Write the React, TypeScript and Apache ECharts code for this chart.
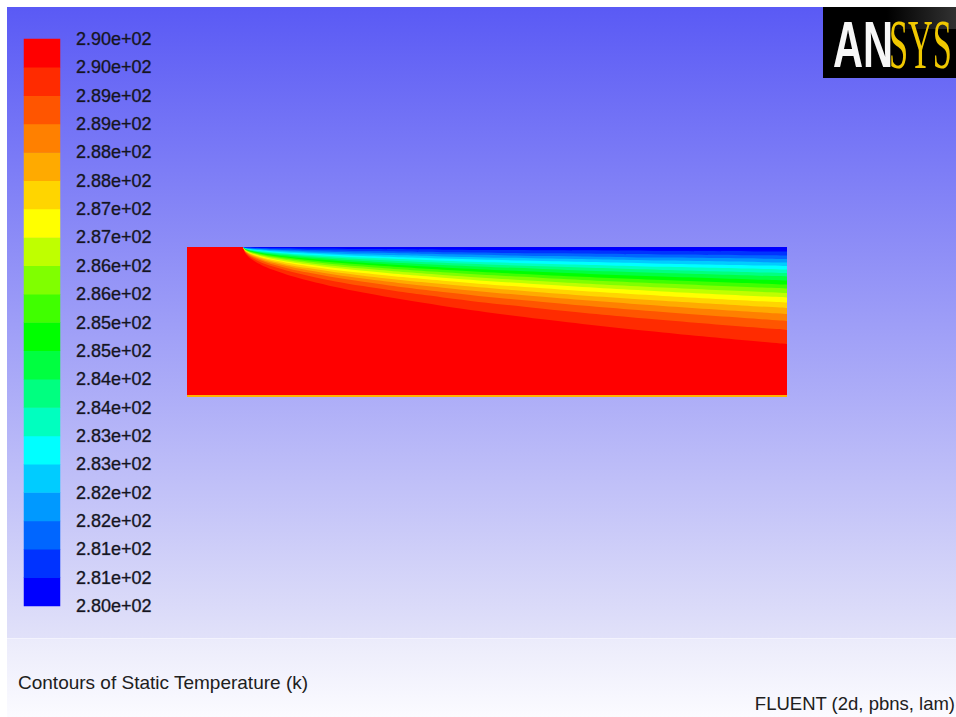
import React, { useEffect, useRef } from "react";
import * as echarts from "echarts";

// Colour-bar levels (K), bottom to top
const LEVELS = [280, 280.5, 281, 281.5, 282, 282.5, 283, 283.5, 284, 284.5, 285, 285.5, 286, 286.5, 287, 287.5, 288, 288.5, 289, 289.5, 290];
// Tick labels as printed, bottom to top
const TICK_LABELS = ["2.80e+02", "2.81e+02", "2.81e+02", "2.82e+02", "2.82e+02", "2.83e+02", "2.83e+02", "2.84e+02", "2.84e+02", "2.85e+02", "2.85e+02", "2.86e+02", "2.86e+02", "2.87e+02", "2.87e+02", "2.88e+02", "2.88e+02", "2.89e+02", "2.89e+02", "2.90e+02", "2.90e+02"];
// Band colours, band 280-280.5 first
const BAND_COLORS = ["#0000ff", "#0033ff", "#0066ff", "#0099ff", "#00ccff", "#00ffff", "#00ffbf", "#00ff80", "#00ff40", "#00ff00", "#40ff00", "#80ff00", "#bfff00", "#ffff00", "#ffd500", "#ffaa00", "#ff8000", "#ff5500", "#ff2b00", "#ff0000"];

// Domain (length, height) in plot units
const DOMAIN_X = [0, 600];
const DOMAIN_Y = [0, 149];
// Stations along the wall where isotherm depths were read
const STATION_X = [56, 59, 68, 86, 121, 176, 256, 356, 476, 600];
// Depth of each isotherm below the cold top wall, at STATION_X
const ISO_280_5 = [0, 0.3, 0.7, 1.1, 1.6, 2.1, 2.7, 3.3, 4.0, 4.5];
const ISO_281_0 = [0, 0.6, 1.3, 2.0, 2.9, 4.0, 5.2, 6.3, 7.5, 8.5];
const ISO_281_5 = [0, 0.9, 1.8, 2.8, 4.2, 5.6, 7.3, 8.9, 10.6, 12];
const ISO_282_0 = [0, 1.2, 2.3, 3.6, 5.4, 7.3, 9.4, 11.5, 13.6, 15.5];
const ISO_282_5 = [0, 1.4, 2.8, 4.5, 6.6, 8.9, 11.5, 14.1, 16.7, 19];
const ISO_283_0 = [0, 1.7, 3.3, 5.3, 7.8, 10.6, 13.7, 16.7, 19.8, 22.5];
const ISO_283_5 = [0, 1.9, 3.9, 6.1, 9.0, 12.2, 15.8, 19.3, 22.9, 26];
const ISO_284_0 = [0, 2.2, 4.4, 6.9, 10.2, 13.9, 17.9, 21.9, 26.0, 29.5];
const ISO_284_5 = [0, 2.5, 5.0, 7.9, 11.6, 15.8, 20.4, 24.9, 29.5, 33.5];
const ISO_285_0 = [0, 2.8, 5.6, 8.8, 13.0, 17.6, 22.8, 27.9, 33.0, 37.5];
const ISO_285_5 = [0, 3.1, 6.2, 9.8, 14.4, 19.5, 25.2, 30.9, 36.5, 41.5];
const ISO_286_0 = [0, 3.4, 6.8, 10.8, 15.9, 21.6, 27.9, 34.2, 40.5, 46];
const ISO_286_5 = [0, 3.8, 7.5, 11.9, 17.5, 23.8, 30.7, 37.6, 44.5, 50.5];
const ISO_287_0 = [0, 4.1, 8.3, 13.1, 19.2, 26.1, 33.7, 41.3, 48.9, 55.5];
const ISO_287_5 = [0, 4.5, 9.1, 14.4, 21.1, 28.7, 37.1, 45.4, 53.7, 61];
const ISO_288_0 = [0, 5.0, 10.0, 15.8, 23.2, 31.5, 40.7, 49.8, 59.0, 67];
const ISO_288_5 = [0, 5.5, 11.0, 17.4, 25.6, 34.8, 45.0, 55.1, 65.1, 74];
const ISO_289_0 = [0, 6.2, 12.4, 19.5, 28.7, 39.1, 50.4, 61.8, 73.1, 83];
const ISO_289_5 = [0, 7.2, 14.4, 22.8, 33.6, 45.6, 58.9, 72.2, 85.4, 97];

const TITLE = "Contours of Static Temperature (k)";
const SOLVER = "FLUENT (2d, pbns, lam)";

// isotherm k (level LEVELS[k]) -> depths
const ISOTHERMS = [
  null, ISO_280_5, ISO_281_0, ISO_281_5, ISO_282_0, ISO_282_5, ISO_283_0, ISO_283_5, ISO_284_0, ISO_284_5,
  ISO_285_0, ISO_285_5, ISO_286_0, ISO_286_5, ISO_287_0, ISO_287_5, ISO_288_0, ISO_288_5, ISO_289_0, ISO_289_5,
];

const FONT = "'Liberation Sans', Arial, Helvetica, sans-serif";

export default function App() {
  const ref = useRef<HTMLDivElement>(null);
  useEffect(() => {
    const chart = echarts.init(ref.current!, null, { renderer: "svg" });

    const contourSeries: any[] = [];
    for (let k = 19; k >= 1; k--) {
      const depths = ISOTHERMS[k] as number[];
      contourSeries.push({
        type: "line",
        name: "T<" + LEVELS[k],
        xAxisIndex: 0,
        yAxisIndex: 0,
        data: STATION_X.map((x, i) => [x, depths[i]]),
        symbol: "none",
        smooth: 0.4,
        silent: true,
        lineStyle: { width: 0, color: BAND_COLORS[k - 1] },
        areaStyle: { color: BAND_COLORS[k - 1], opacity: 1, origin: "start" },
        z: 3,
      });
    }

    const option: any = {
      animation: false,
      backgroundColor: new echarts.graphic.LinearGradient(0, 0, 0, 1, [
        { offset: 0, color: "#5a5af5" },
        { offset: 0.888, color: "#e1e1f9" },
        { offset: 0.889, color: "#ebebfb" },
        { offset: 1, color: "#fbfbff" },
      ]),
      grid: [
        { left: 180, top: 240, width: 600, height: 149, show: true, backgroundColor: BAND_COLORS[19], borderWidth: 0 },
        { left: 17, top: 32, width: 36, height: 567, show: false },
      ],
      xAxis: [
        { type: "value", gridIndex: 0, min: DOMAIN_X[0], max: DOMAIN_X[1], show: false },
        { type: "category", gridIndex: 1, data: ["T"], show: false },
      ],
      yAxis: [
        { type: "value", gridIndex: 0, min: DOMAIN_Y[0], max: DOMAIN_Y[1], inverse: true, show: false },
        { type: "category", gridIndex: 1, data: BAND_COLORS.map((_, j) => String(j)), show: false },
        {
          type: "value",
          gridIndex: 1,
          position: "right",
          min: LEVELS[0],
          max: LEVELS[LEVELS.length - 1],
          interval: 0.5,
          axisLine: { show: false },
          axisTick: { show: false },
          splitLine: { show: false },
          axisLabel: {
            show: true,
            margin: 16,
            color: "#15151f",
            fontSize: 18,
            fontFamily: FONT,
            textBorderColor: "rgba(21,21,31,0.55)",
            textBorderWidth: 0.6,
            formatter: (v: number) => TICK_LABELS[Math.round((v - LEVELS[0]) / 0.5)],
          },
        },
      ],
      visualMap: {
        type: "piecewise",
        show: false,
        seriesIndex: 0,
        dimension: 2,
        pieces: BAND_COLORS.map((c, j) => ({ gte: LEVELS[j], lt: LEVELS[j + 1], color: c })),
      },
      series: [
        {
          type: "heatmap",
          xAxisIndex: 1,
          yAxisIndex: 1,
          silent: true,
          data: BAND_COLORS.map((_, j) => [0, j, (LEVELS[j] + LEVELS[j + 1]) / 2]),
          itemStyle: { borderWidth: 0 },
        },
        ...contourSeries,
        {
          type: "line",
          name: "wall",
          xAxisIndex: 0,
          yAxisIndex: 0,
          data: [[DOMAIN_X[0], DOMAIN_Y[1]], [DOMAIN_X[1], DOMAIN_Y[1]]],
          symbol: "none",
          silent: true,
          lineStyle: { width: 2, color: "#ffb400" },
          z: 4,
        },
      ],
      graphic: [
        { type: "line", shape: { x1: 0, y1: 631.5, x2: 949, y2: 631.5 }, style: { stroke: "#f3f3fd", lineWidth: 1 }, silent: true },
        { type: "rect", shape: { x: 816, y: 0, width: 133, height: 71 }, style: { fill: "#000" }, silent: true },
        {
          type: "rect",
          shape: { x: 880, y: 0, width: 69, height: 22 },
          style: {
            fill: new echarts.graphic.LinearGradient(0, 0, 1, 0, [
              { offset: 0, color: "rgba(90,90,90,0)" },
              { offset: 1, color: "rgba(90,90,90,0.55)" },
            ]),
          },
          silent: true,
        },
        {
          type: "text",
          x: 826,
          y: 38,
          scaleX: 0.64,
          style: { text: "AN", fill: "#f6f6f6", font: "bold 65px " + FONT, verticalAlign: "middle", align: "left" },
          silent: true,
        },
        {
          type: "text",
          x: 882,
          y: 38,
          scaleX: 0.49,
          style: { text: "SYS", fill: "#f0c800", font: "70px 'Liberation Serif', 'Times New Roman', serif", verticalAlign: "middle", align: "left" },
          silent: true,
        },
        {
          type: "text",
          x: 11,
          y: 675,
          style: { text: TITLE, fill: "#202020", font: "19px " + FONT, verticalAlign: "middle", align: "left" },
          silent: true,
        },
        {
          type: "text",
          x: 948,
          y: 696,
          style: { text: SOLVER, fill: "#202020", font: "18.5px " + FONT, verticalAlign: "middle", align: "right" },
          silent: true,
        },
      ],
    };

    chart.setOption(option);
    return () => chart.dispose();
  }, []);

  return <div ref={ref} style={{ position: "absolute", left: 7, top: 7, width: 949, height: 710 }} />;
}
